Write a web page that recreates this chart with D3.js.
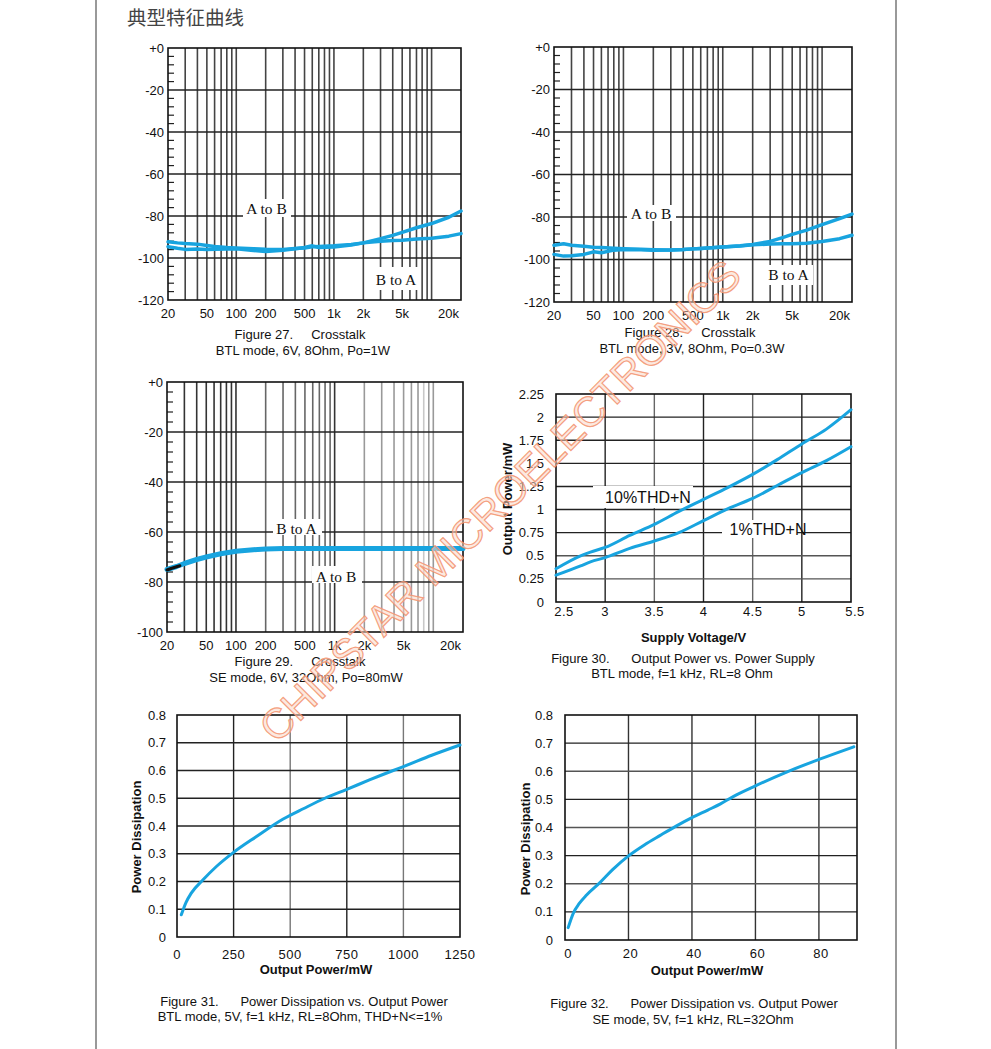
<!DOCTYPE html>
<html><head><meta charset="utf-8">
<script src="https://cdn.jsdelivr.net/npm/d3@7/dist/d3.min.js"></script>
<style>
html,body{margin:0;padding:0;background:#fff;}
svg{display:block;}
text{font-family:"Liberation Sans",Arial,sans-serif;}
</style></head>
<body>
<svg id="c" width="991" height="1049"></svg>
<script>
// ---------------- DATA ----------------
const pageTitle = "典型特征曲线";
const freqTicks = [20,50,100,200,500,1000,2000,5000,20000];
const freqTickLabels = ["20","50","100","200","500","1k","2k","5k","20k"];
const freqGrid = [30,40,50,60,70,80,90,100,200,300,400,500,600,700,800,900,1000,2000,3000,4000,5000,6000,7000,8000,9000,10000];

// Figure 27
const fig27Freq = [20,25,30,40,50,60,80,100,150,200,300,400,500,600,700,1000,1500,2000,3000,4000,5000,7000,10000,15000,20000];
const fig27AtoB = [-92.3,-92.8,-93.1,-93.4,-94.0,-94.5,-95.0,-95.2,-95.6,-95.8,-95.9,-95.5,-95.2,-94.7,-94.5,-94.2,-93.6,-92.8,-90.8,-89.2,-87.8,-85.6,-83.6,-80.6,-77.6];
const fig27BtoA = [-94.6,-95.4,-95.9,-95.7,-96.0,-95.8,-95.7,-95.6,-96.4,-96.9,-96.3,-95.6,-95.0,-94.2,-95.0,-94.8,-93.8,-92.8,-92.0,-91.7,-91.6,-91.0,-90.6,-89.6,-88.4];

// Figure 28
const fig28Freq = [20,25,30,40,50,60,80,100,150,200,300,400,500,600,700,1000,1500,2000,3000,4000,5000,7000,10000,15000,20000];
const fig28AtoB = [-93.3,-92.6,-93.3,-93.8,-94.2,-94.4,-94.7,-94.9,-95.2,-95.4,-95.5,-95.3,-95.0,-94.8,-94.6,-94.1,-93.5,-92.9,-91.5,-89.7,-88.2,-86.2,-83.6,-80.8,-78.6];
const fig28BtoA = [-97.6,-98.4,-98.2,-97.6,-96.4,-96.8,-95.6,-95.3,-95.4,-95.6,-95.5,-95.3,-95.0,-94.8,-94.6,-94.1,-93.6,-93.1,-92.7,-92.6,-92.6,-92.3,-91.5,-90.2,-88.6];

// Figure 29
const fig29Freq = [20,25,30,40,50,70,100,150,200,300,500,1000,2000,5000,10000,20000];
const fig29BtoA = [-75.0,-73.8,-72.6,-71.0,-70.0,-68.7,-67.7,-67.1,-66.8,-66.6,-66.6,-66.6,-66.6,-66.6,-66.6,-66.6];
const fig29AtoBFreq = [20,22,25,27];
const fig29AtoB = [-75.2,-74.6,-73.9,-73.5];

// Figure 30
const fig30Voltage = [2.5,2.75,2.85,3.0,3.25,3.5,3.75,4.0,4.25,4.5,4.75,5.0,5.25,5.5];
const fig30THD10 = [0.36,0.50,0.54,0.59,0.72,0.84,0.98,1.11,1.24,1.38,1.54,1.71,1.87,2.08];
const fig30THD1 = [0.29,0.39,0.435,0.48,0.58,0.66,0.75,0.88,1.01,1.12,1.26,1.40,1.53,1.68];
const fig30XTicks = [2.5,3,3.5,4,4.5,5,5.5];
const fig30YTicks = [0,0.25,0.5,0.75,1,1.25,1.5,1.75,2,2.25];

// Figure 31
const fig31Power = [19,40,63,115,174,250,351,469,560,653,750,850,955,1000,1125,1250];
const fig31Dissipation = [0.08,0.125,0.158,0.206,0.254,0.305,0.362,0.425,0.463,0.50,0.532,0.566,0.60,0.614,0.655,0.692];
const fig31XTicks = [0,250,500,750,1000,1250];

// Figure 32
const fig32Power = [1,2.6,4.5,6.8,11,15,20,25,30,35,40,45,49,53,60,70,80,91];
const fig32Dissipation = [0.044,0.095,0.13,0.16,0.204,0.25,0.299,0.338,0.372,0.405,0.435,0.462,0.484,0.51,0.548,0.598,0.642,0.687];
const fig32XTicks = [0,20,40,60,80];
const dissYTicks = [0,0.1,0.2,0.3,0.4,0.5,0.6,0.7,0.8];

// ---------------- DRAWING ----------------
const svg = d3.select("#c");
const BLUE = "#18a4df";
const SANS = '"Liberation Sans",Arial,sans-serif';
const SERIF = '"Liberation Serif","Times New Roman",serif';

// page borders
svg.append("line").attr("x1",96).attr("x2",96).attr("y1",0).attr("y2",1049).attr("stroke","#555").attr("stroke-width",1.2);
svg.append("line").attr("x1",896).attr("x2",896).attr("y1",0).attr("y2",1049).attr("stroke","#555").attr("stroke-width",1.2);

svg.append("text").attr("x",127).attr("y",25).text(pageTitle)
  .style("font-family",'"Noto Sans CJK SC",sans-serif').style("font-size","19.5px").attr("fill","#444");

function zip(xs, ys){ return xs.map((x,i)=>[x, ys[i]]); }

function labelBox(g, box, text, tx, ty, font, size){
  g.append("rect").attr("x",box[0]).attr("y",box[1]).attr("width",box[2]).attr("height",box[3]).attr("fill","#fff");
  g.append("text").attr("x",tx).attr("y",ty).attr("text-anchor","middle").attr("dominant-baseline","central")
    .style("font-family",font).style("font-size",size+"px").attr("fill","#111").text(text);
}

function caption(lines){
  lines.forEach(l=>{
    svg.append("text").attr("x",l[1]).attr("y",l[2]).attr("text-anchor","middle").attr("dominant-baseline","central")
      .style("font-size","13px").attr("fill","#111").style("white-space","pre").text(l[0]);
  });
}

function crosstalk(cfg){
  const g = svg.append("g");
  const x = d3.scaleLog().domain([20,20000]).range([cfg.l,cfg.r]);
  const y = d3.scaleLinear().domain([cfg.ymin,0]).range([cfg.b,cfg.t]);
  g.selectAll("line.vg").data(freqGrid).enter().append("line")
    .attr("x1",d=>x(d)).attr("x2",d=>x(d)).attr("y1",cfg.t).attr("y2",cfg.b)
    .attr("stroke",d=>cfg.gridColor(d)).attr("stroke-width",1.6);
  const hy = d3.range(cfg.ymin+20,0,20);
  g.selectAll("line.hg").data(hy).enter().append("line")
    .attr("x1",cfg.l).attr("x2",cfg.r).attr("y1",d=>y(d)).attr("y2",d=>y(d))
    .attr("stroke","#222").attr("stroke-width",1.4);
  const mt = d3.range(cfg.ymin+4,0,4).filter(v=>v%20!==0);
  g.selectAll("line.mt").data(mt).enter().append("line")
    .attr("x1",cfg.l).attr("x2",cfg.l+6).attr("y1",d=>y(d)).attr("y2",d=>y(d))
    .attr("stroke","#222").attr("stroke-width",1.2);
  g.append("rect").attr("x",cfg.l).attr("y",cfg.t).attr("width",cfg.r-cfg.l).attr("height",cfg.b-cfg.t)
    .attr("fill","none").attr("stroke","#111").attr("stroke-width",1.6);
  const yt = d3.range(cfg.ymin,1,20);
  g.selectAll("text.yl").data(yt).enter().append("text")
    .attr("x",cfg.l-4).attr("y",d=>y(d)).attr("text-anchor","end").attr("dominant-baseline","central")
    .style("font-size","13px").attr("fill","#111").text(d=>d===0?"+0":String(d));
  g.selectAll("text.xl").data(freqTicks).enter().append("text")
    .attr("x",(d,i)=> i===freqTicks.length-1 ? x(d)-2 : x(d))
    .attr("y",cfg.b+13).attr("text-anchor",(d,i)=> i===freqTicks.length-1 ? "end":"middle")
    .attr("dominant-baseline","central")
    .style("font-size","13px").attr("fill","#111").text((d,i)=>freqTickLabels[i]);
  cfg.labels.forEach(L=>labelBox(g,L.box,L.text,L.x,L.y,SERIF,15.5));
  const line = d3.line().x(d=>x(d[0])).y(d=>y(d[1])).curve(d3.curveLinear);
  cfg.series.forEach(s=>{
    g.append("path").datum(s.data).attr("d",line).attr("fill","none")
      .attr("stroke",s.color).attr("stroke-width",s.w).attr("stroke-linejoin","round").attr("stroke-linecap","round");
  });
}

crosstalk({l:168,r:461,t:48,b:300,ymin:-120,gridColor:d=>"#444",
  labels:[{text:"A to B",box:[243,199,48,18],x:266.5,y:208},{text:"B to A",box:[373,267,48,23],x:396,y:279.5}],
  series:[{data:zip(fig27Freq,fig27BtoA),color:BLUE,w:3.5},{data:zip(fig27Freq,fig27AtoB),color:BLUE,w:3.5}]});

crosstalk({l:554,r:852,t:47,b:302,ymin:-120,gridColor:d=>"#444",
  labels:[{text:"A to B",box:[627,205,49,16],x:651,y:213.5},{text:"B to A",box:[765,265,48,20],x:788.5,y:274.5}],
  series:[{data:zip(fig28Freq,fig28BtoA),color:BLUE,w:3.5},{data:zip(fig28Freq,fig28AtoB),color:BLUE,w:3.5}]});

crosstalk({l:167,r:463,t:382,b:632,ymin:-100,gridColor:d=>(d>1000 ? (d===8000?"#c8c8c8":"#999") : (d%100===0 && d<1000 && d>100 ? "#666":"#333")),
  labels:[{text:"B to A",box:[273,519,49,16],x:296.5,y:528},{text:"A to B",box:[312,566,50,17],x:336,y:576}],
  series:[{data:zip(fig29Freq,fig29BtoA),color:BLUE,w:5},{data:zip(fig29AtoBFreq,fig29AtoB),color:"#111",w:3}]});

caption([["Figure 27.     Crosstalk",300,334.5],["BTL mode, 6V, 8Ohm, Po=1W",303,350.5]]);
caption([["Figure 28.     Crosstalk",690,332],["BTL mode, 3V, 8Ohm, Po=0.3W",692,348.5]]);
caption([["Figure 29.     Crosstalk",300,661],["SE mode, 6V, 32Ohm, Po=80mW",306,677]]);

function xyChart(cfg){
  const g = svg.append("g");
  const x = d3.scaleLinear().domain(cfg.xd).range([cfg.l,cfg.r]);
  const y = d3.scaleLinear().domain(cfg.yd).range([cfg.b,cfg.t]);
  g.selectAll("line.vg").data(cfg.xGrid).enter().append("line")
    .attr("x1",d=>x(d)).attr("x2",d=>x(d)).attr("y1",cfg.t).attr("y2",cfg.b)
    .attr("stroke",(d,i)=>cfg.vColor(d,i)).attr("stroke-width",1.4);
  g.selectAll("line.hg").data(cfg.yGrid).enter().append("line")
    .attr("x1",cfg.l).attr("x2",cfg.r).attr("y1",d=>y(d)).attr("y2",d=>y(d))
    .attr("stroke",(d,i)=>cfg.hColor(d,i)).attr("stroke-width",1.4);
  g.append("rect").attr("x",cfg.l).attr("y",cfg.t).attr("width",cfg.r-cfg.l).attr("height",cfg.b-cfg.t)
    .attr("fill","none").attr("stroke","#111").attr("stroke-width",1.6);
  g.selectAll("text.yl").data(cfg.yTicks).enter().append("text")
    .attr("x",cfg.l-cfg.yGap).attr("y",d=>y(d)).attr("text-anchor","end").attr("dominant-baseline","central")
    .style("font-size","13px").attr("fill","#111").text(cfg.yFmt);
  g.selectAll("text.xl").data(cfg.xTicks).enter().append("text")
    .attr("x",(d,i)=>x(d)+(cfg.xOff?cfg.xOff(d,i):0)).attr("y",cfg.b+cfg.xGap).attr("text-anchor","middle")
    .attr("dominant-baseline","central").style("font-size","13px").attr("fill","#111")
    .style("letter-spacing","0.5px").text(cfg.xFmt);
  (cfg.labels||[]).forEach(L=>labelBox(g,L.box,L.text,L.x,L.y,SANS,16));
  const line = d3.line().x(d=>x(d[0])).y(d=>y(d[1])).curve(d3.curveMonotoneX);
  cfg.series.forEach(s=>{
    g.append("path").datum(s).attr("d",line).attr("fill","none").attr("stroke",BLUE)
      .attr("stroke-width",3).attr("stroke-linecap","round").attr("stroke-linejoin","round");
  });
  svg.append("text").attr("x",cfg.xt[0]).attr("y",cfg.xt[1]).attr("text-anchor","middle").attr("dominant-baseline","central")
    .style("font-size","13px").style("font-weight","bold").attr("fill","#111").text(cfg.xTitle);
  svg.append("text").attr("transform",`translate(${cfg.yt[0]},${cfg.yt[1]}) rotate(-90)`).attr("text-anchor","middle")
    .attr("dominant-baseline","central").style("font-size","13px").style("font-weight","bold").attr("fill","#111").text(cfg.yTitle);
}

xyChart({l:556,r:851,t:394,b:602,xd:[2.5,5.5],yd:[0,2.25],
  xGrid:[3,3.5,4,4.5,5],yGrid:[0.25,0.5,0.75,1,1.25,1.5,1.75,2],
  vColor:d=>(d===3.5||d===4.5)?"#666":"#222",hColor:d=>(d===0.5||d===0.25)?"#555":"#222",
  xTicks:fig30XTicks,yTicks:fig30YTicks,yGap:12,xGap:9,
  xOff:(d,i)=> i===0?8:(i===fig30XTicks.length-1?4:0),
  yFmt:d=>String(d),xFmt:d=>String(d),
  labels:[{text:"10%THD+N",box:[593,486,100,22],x:648,y:497},{text:"1%THD+N",box:[722,520,75,18],x:768,y:529}],
  series:[zip(fig30Voltage,fig30THD10),zip(fig30Voltage,fig30THD1)],
  xTitle:"Supply Voltage/V",xt:[693.5,637.5],yTitle:"Output Power/mW",yt:[507,499]});
caption([["Figure 30.      Output Power vs. Power Supply",683,658.5],["BTL mode, f=1 kHz, RL=8 Ohm",682,673.5]]);

xyChart({l:177,r:460,t:715,b:937,xd:[0,1250],yd:[0,0.8],
  xGrid:[250,500,750,1000],yGrid:[0.1,0.2,0.3,0.4,0.5,0.6,0.7],
  vColor:d=>(d===500||d===1000)?"#777":"#222",hColor:d=>"#222",
  xTicks:fig31XTicks,yTicks:dissYTicks,yGap:11,xGap:17,
  yFmt:d=>d===0?"0":d.toFixed(1),xFmt:d=>String(d),
  series:[zip(fig31Power,fig31Dissipation)],
  xTitle:"Output Power/mW",xt:[316,969.5],yTitle:"Power Dissipation",yt:[136.5,837]});
caption([["Figure 31.      Power Dissipation vs. Output Power",304,1001],["BTL mode, 5V, f=1 kHz, RL=8Ohm, THD+N<=1%",300,1016]]);

xyChart({l:565,r:857,t:715,b:940,xd:[0,92],yd:[0,0.8],
  xGrid:[20,40,60,80],yGrid:[0.1,0.2,0.3,0.4,0.5,0.6,0.7],
  vColor:d=>"#333",hColor:(d,i)=> i%2===1?"#555":"#222",
  xTicks:fig32XTicks,yTicks:dissYTicks,yGap:12,xGap:13,
  xOff:(d,i)=> i===0?3:2,
  yFmt:d=>d===0?"0":d.toFixed(1),xFmt:d=>String(d),
  series:[zip(fig32Power,fig32Dissipation)],
  xTitle:"Output Power/mW",xt:[707,970.5],yTitle:"Power Dissipation",yt:[525,839]});
caption([["Figure 32.      Power Dissipation vs. Output Power",694,1003.5],["SE mode, 5V, f=1 kHz, RL=32Ohm",693,1019.5]]);

// watermark
svg.append("text").attr("transform","translate(500,501) rotate(-45)").attr("text-anchor","middle").attr("dominant-baseline","central")
  .style("font-size","42px").attr("fill","#fbd6c6").attr("fill-opacity",0.55).attr("stroke","#f39572").attr("stroke-width",1.2)
  .attr("stroke-opacity",0.9).text("CHIPSTAR MICROELECTRONICS");
</script>
</body></html>
